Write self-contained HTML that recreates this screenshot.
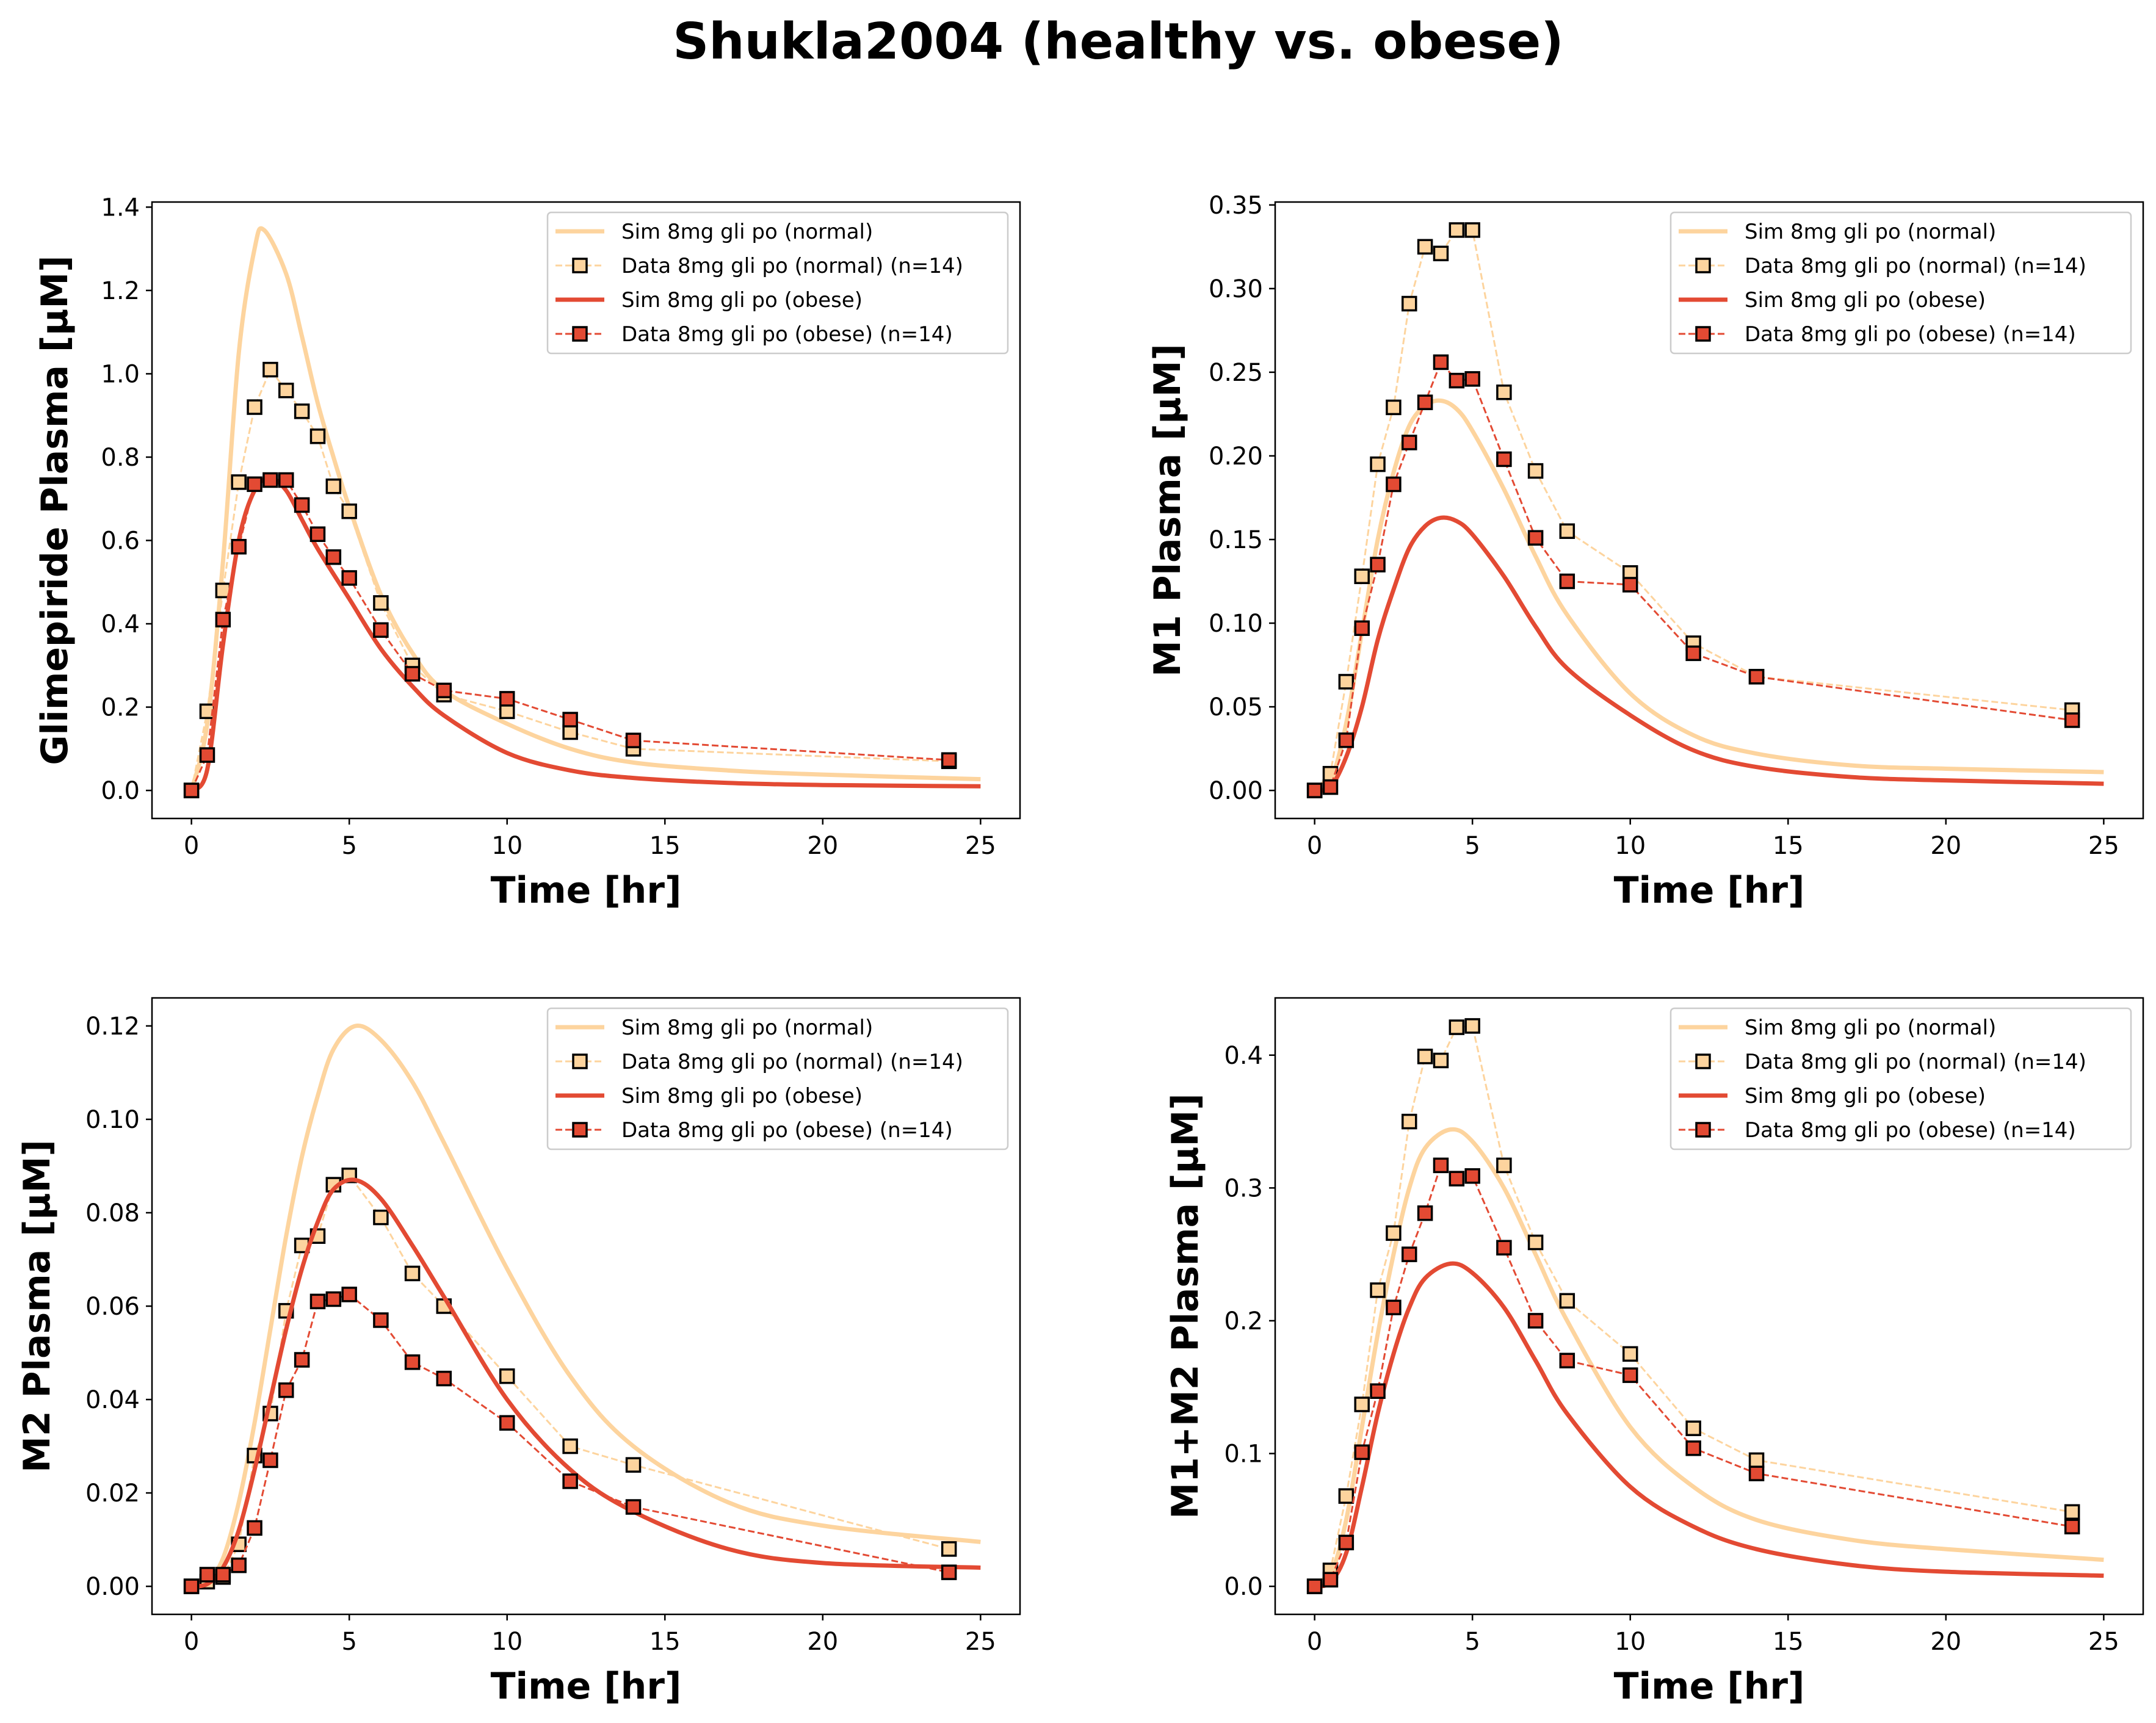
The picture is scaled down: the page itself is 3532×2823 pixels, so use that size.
<!DOCTYPE html>
<html><head><meta charset="utf-8"><style>
html,body{margin:0;padding:0;background:#fff}
svg{display:block}
text{font-family:"DejaVu Sans","Liberation Sans",sans-serif}
</style></head><body>
<svg id="fig" width="3532" height="2823" viewBox="0 0 3532 2823" xmlns="http://www.w3.org/2000/svg">
<rect width="3532" height="2823" fill="#fff"/>
<text x="1832" y="96" text-anchor="middle" font-size="82" font-weight="bold">Shukla2004 (healthy vs. obese)</text>
</svg>
<script>
const dataTimes=[0,0.5,1,1.5,2,2.5,3,3.5,4,4.5,5,6,7,8,10,12,14,24];
const xTicks=[0,5,10,15,20,25];
// Panel 1 Glimepiride
const p1Normal=[0,0.19,0.48,0.74,0.92,1.01,0.96,0.91,0.85,0.73,0.67,0.45,0.30,0.23,0.19,0.14,0.10,0.07];
const p1Obese=[0,0.085,0.41,0.585,0.735,0.745,0.745,0.685,0.615,0.56,0.51,0.385,0.28,0.24,0.22,0.17,0.12,0.073];
const p1SimT=[0,0.5,1,1.5,2,2.3,3,3.5,4,4.5,5,6,7,8,10,12,14,17,20,25];
const p1SimNormal=[0,0.16,0.55,1.05,1.30,1.345,1.24,1.09,0.93,0.8,0.68,0.47,0.33,0.24,0.16,0.10,0.067,0.048,0.038,0.027];
const p1SimT2=[0,0.5,1,1.5,2,2.5,3,3.5,4,5,6,7,8,10,12,14,17,20,25];
const p1SimObese=[0,0.05,0.35,0.6,0.72,0.75,0.72,0.65,0.58,0.46,0.34,0.25,0.18,0.09,0.048,0.03,0.018,0.013,0.01];
const p1Ticks=[0,0.2,0.4,0.6,0.8,1.0,1.2,1.4];
// Panel 2 M1
const p2Normal=[0,0.01,0.065,0.128,0.195,0.229,0.291,0.325,0.321,0.335,0.335,0.238,0.191,0.155,0.130,0.088,0.068,0.048];
const p2Obese=[0,0.002,0.030,0.097,0.135,0.183,0.208,0.232,0.256,0.245,0.246,0.198,0.151,0.125,0.123,0.082,0.068,0.042];
const p2SimT=[0,0.5,1,1.5,2,2.5,3,3.5,4,4.5,5,6,7,8,10,12,14,17,20,25];
const p2SimNormal=[0,0.005,0.04,0.095,0.15,0.19,0.218,0.23,0.233,0.228,0.215,0.18,0.14,0.105,0.058,0.033,0.022,0.015,0.013,0.011];
const p2SimObese=[0,0.002,0.02,0.05,0.09,0.12,0.145,0.158,0.163,0.161,0.153,0.128,0.098,0.073,0.045,0.024,0.014,0.008,0.006,0.004];
const p2Ticks=[0,0.05,0.10,0.15,0.20,0.25,0.30,0.35];
// Panel 3 M2
const p3Normal=[0,0.001,0.002,0.009,0.028,0.037,0.059,0.073,0.075,0.086,0.088,0.079,0.067,0.060,0.045,0.030,0.026,0.008];
const p3Obese=[0,0.0025,0.0025,0.0045,0.0125,0.027,0.042,0.0485,0.061,0.0615,0.0625,0.057,0.048,0.0445,0.035,0.0225,0.017,0.003];
const p3SimT=[0,0.5,1,1.5,2,2.5,3,3.5,4,4.5,5.2,6,7,8,10,12,14,17,20,25];
const p3SimNormal=[0,0.001,0.006,0.018,0.035,0.055,0.075,0.092,0.105,0.115,0.12,0.117,0.108,0.095,0.068,0.045,0.03,0.018,0.013,0.0095];
const p3SimObese=[0,0.0005,0.004,0.012,0.025,0.04,0.055,0.068,0.078,0.085,0.087,0.083,0.073,0.062,0.04,0.025,0.016,0.008,0.005,0.004];
const p3Ticks=[0,0.02,0.04,0.06,0.08,0.10,0.12];
// Panel 4 M1+M2
const p4Normal=[0,0.012,0.068,0.137,0.223,0.266,0.350,0.399,0.396,0.421,0.422,0.317,0.259,0.215,0.175,0.119,0.095,0.056];
const p4Obese=[0,0.005,0.033,0.101,0.147,0.210,0.250,0.281,0.317,0.307,0.309,0.255,0.200,0.170,0.159,0.104,0.085,0.045];
const p4SimT=[0,0.5,1,1.5,2,2.5,3,3.5,4.3,5,6,7,8,10,12,14,17,20,25];
const p4SimNormal=[0,0.008,0.05,0.12,0.19,0.25,0.30,0.33,0.344,0.335,0.30,0.25,0.20,0.12,0.075,0.05,0.035,0.028,0.02];
const p4SimObese=[0,0.003,0.025,0.075,0.13,0.175,0.21,0.232,0.243,0.236,0.21,0.17,0.13,0.075,0.045,0.028,0.016,0.011,0.008];
const p4Ticks=[0,0.1,0.2,0.3,0.4];

const NS='http://www.w3.org/2000/svg';
const svg=document.getElementById('fig');
const LIGHT='#fdd49e', RED='#e34a33';
function mk(tag,attrs,parent){const e=document.createElementNS(NS,tag);for(const k in attrs)e.setAttribute(k,attrs[k]);(parent||svg).appendChild(e);return e;}
function smooth(pts){let d='M'+pts[0][0]+','+pts[0][1];for(let i=0;i<pts.length-1;i++){const p0=pts[Math.max(0,i-1)],p1=pts[i],p2=pts[i+1],p3=pts[Math.min(pts.length-1,i+2)];const c1=[p1[0]+(p2[0]-p0[0])/6,p1[1]+(p2[1]-p0[1])/6],c2=[p2[0]-(p3[0]-p1[0])/6,p2[1]-(p3[1]-p1[1])/6];d+=' C'+c1[0]+','+c1[1]+' '+c2[0]+','+c2[1]+' '+p2[0]+','+p2[1];}return d;}

function panel(cfg){
  const L=cfg.left,T=cfg.top,W=1422,H=1010,R=L+W,B=T+H;
  const x0=-1.25,x1=26.25;
  const ymin=-cfg.ymax*0.05,ymax=cfg.ymax*1.05;
  const X=v=>L+(v-x0)/(x1-x0)*W;
  const Y=v=>B-(v-ymin)/(ymax-ymin)*H;
  const g=mk('g',{});
  
  
  xTicks.forEach(t=>{
    const tk=mk('line',{x1:X(t),x2:X(t),y1:B,y2:B+10,stroke:'#000','stroke-width':2.5},g);
    
    const tl=mk('text',{x:X(t),y:B+58,'text-anchor':'middle','font-size':40},g);
    
    tl.textContent=t;
  });
  cfg.ticks.forEach(t=>{
    const tk=mk('line',{x1:L-10,x2:L,y1:Y(t),y2:Y(t),stroke:'#000','stroke-width':2.5},g);
    
    const tl=mk('text',{x:L-20,y:Y(t)+14,'text-anchor':'end','font-size':40},g);
    
    tl.textContent=t.toFixed(cfg.dec);
  });
  const xl=mk('text',{x:L+W/2,y:B+138,'text-anchor':'middle','font-size':60,'font-weight':'bold'},g);
  
  xl.textContent='Time [hr]';
  const yx=cfg.ylx;
  const yl=mk('text',{x:yx,y:T+H/2+20,'text-anchor':'middle','font-size':60,'font-weight':'bold',transform:`rotate(-90 ${yx} ${T+H/2})`},g);
  
  yl.textContent=cfg.ylabel;
  const cid='clip'+cfg.name;
  const cp=mk('clipPath',{id:cid},g);mk('rect',{x:L,y:T,width:W,height:H},cp);
  const pg=mk('g',{'clip-path':`url(#${cid})`},g);
  function sim(ts,vs,col,nm){
    const p=mk('path',{d:smooth(ts.map((t,i)=>[X(t),Y(vs[i])])),fill:'none',stroke:col,'stroke-width':7,'stroke-linejoin':'round'},pg);
    
  }
  function data(vs,col,nm){
    const pl=mk('polyline',{points:dataTimes.map((t,i)=>X(t)+','+Y(vs[i])).join(' '),fill:'none',stroke:col,'stroke-width':3,'stroke-dasharray':'11,5'},pg);
    
    dataTimes.forEach((t,i)=>{
      const r=mk('rect',{x:X(t)-11,y:Y(vs[i])-11,width:22,height:22,fill:col,stroke:'#000','stroke-width':3.5},pg);
      
    });
  }
  sim(cfg.simTn,cfg.simN,LIGHT,'sim-normal-curve');
  data(cfg.dn,LIGHT,'data-normal');
  sim(cfg.simTo,cfg.simO,RED,'sim-obese-curve');
  data(cfg.dob,RED,'data-obese');
  const fr=mk('rect',{x:L,y:T,width:W,height:H,fill:'none',stroke:'#000','stroke-width':2.5},g);
  
  const lg=mk('g',{},g);
  
  const lx=R-774,ly=T+17;
  mk('rect',{x:lx,y:ly,width:754,height:231,rx:6,fill:'#fff','fill-opacity':0.8,stroke:'#ccc','stroke-width':2.5},lg);
  const entries=[['Sim 8mg gli po (normal)',LIGHT,'sim'],['Data 8mg gli po (normal) (n=14)',LIGHT,'data'],['Sim 8mg gli po (obese)',RED,'sim'],['Data 8mg gli po (obese) (n=14)',RED,'data']];
  entries.forEach((e,i)=>{
    const yy=ly+31+i*56;
    const eg=mk('g',{},lg);
    
    if(e[2]==='sim'){mk('line',{x1:lx+13,x2:lx+93,y1:yy,y2:yy,stroke:e[1],'stroke-width':7},eg);}
    else{mk('line',{x1:lx+13,x2:lx+93,y1:yy,y2:yy,stroke:e[1],'stroke-width':3,'stroke-dasharray':'11,5'},eg);
      mk('rect',{x:lx+42,y:yy-11,width:22,height:22,fill:e[1],stroke:'#000','stroke-width':3.5},eg);}
    const tx=mk('text',{x:lx+121,y:yy+12,'font-size':34},eg);tx.textContent=e[0];
  });
}
panel({name:'glimepiride-panel',left:249,top:331,ymax:1.345,ticks:p1Ticks,dec:1,ylabel:'Glimepiride Plasma [µM]',ylx:90,dn:p1Normal,dob:p1Obese,simTn:p1SimT,simN:p1SimNormal,simTo:p1SimT2,simO:p1SimObese});
panel({name:'m1-panel',left:2089,top:331,ymax:0.335,ticks:p2Ticks,dec:2,ylabel:'M1 Plasma [µM]',ylx:1913,dn:p2Normal,dob:p2Obese,simTn:p2SimT,simN:p2SimNormal,simTo:p2SimT,simO:p2SimObese});
panel({name:'m2-panel',left:249,top:1635,ymax:0.12,ticks:p3Ticks,dec:2,ylabel:'M2 Plasma [µM]',ylx:61,dn:p3Normal,dob:p3Obese,simTn:p3SimT,simN:p3SimNormal,simTo:p3SimT,simO:p3SimObese});
panel({name:'m1-m2-panel',left:2089,top:1635,ymax:0.422,ticks:p4Ticks,dec:1,ylabel:'M1+M2 Plasma [µM]',ylx:1942,dn:p4Normal,dob:p4Obese,simTn:p4SimT,simN:p4SimNormal,simTo:p4SimT,simO:p4SimObese});
</script>
</body></html>
